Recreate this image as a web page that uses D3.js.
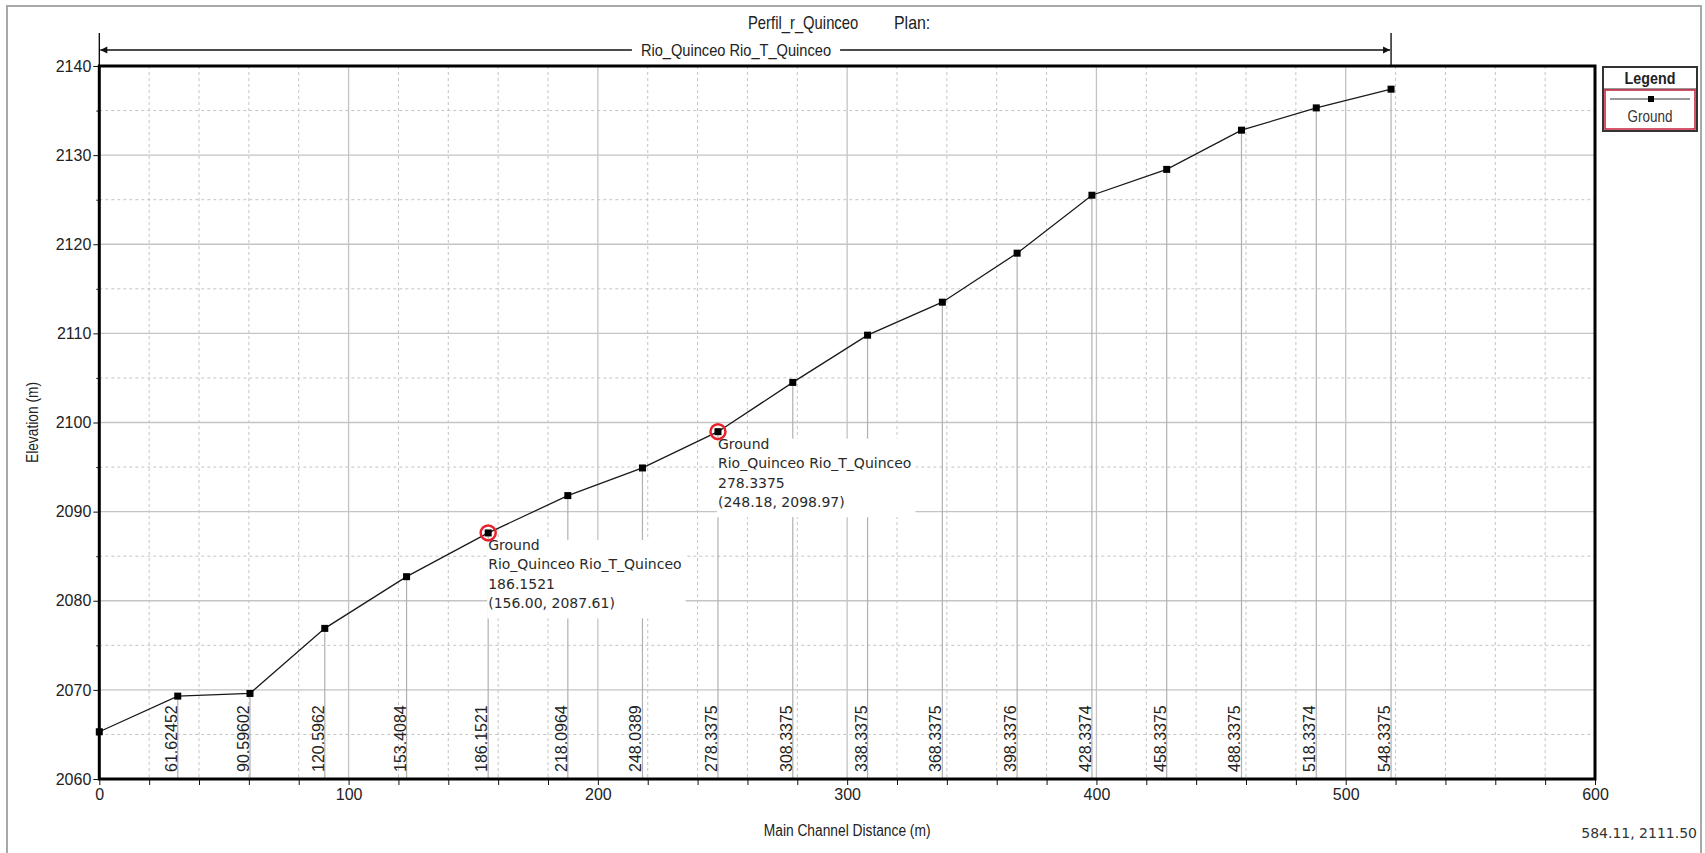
<!DOCTYPE html>
<html>
<head>
<meta charset="utf-8">
<script src="https://cdn.jsdelivr.net/npm/d3@7"></script>
<style>
  html, body { margin: 0; padding: 0; background: #fff; }
  svg { display: block; }
  .narrow { font-family: "Liberation Sans", Arial, sans-serif; }
  .reg { font-family: "Liberation Sans", Arial, sans-serif; }
  .tip { font-family: "DejaVu Sans", Verdana, Tahoma, sans-serif; }
</style>
</head>
<body>
<svg id="chart" width="1705" height="853"></svg>
<script>
// ---------------- data ----------------
const distances = [0, 31.47, 60.45, 90.45, 123.26, 156.00, 187.95, 217.89, 248.18, 278.19, 308.19, 338.19, 368.19, 398.19, 428.19, 458.19, 488.19, 518.19];
const elevations = [2065.3, 2069.3, 2069.6, 2076.9, 2082.7, 2087.61, 2091.8, 2094.9, 2098.97, 2104.5, 2109.8, 2113.5, 2119.0, 2125.5, 2128.4, 2132.8, 2135.3, 2137.4];
const stationLabels = ["", "61.62452", "90.59602", "120.5962", "153.4084", "186.1521", "218.0964", "248.0389", "278.3375", "308.3375", "338.3375", "368.3375", "398.3376", "428.3374", "458.3375", "488.3375", "518.3374", "548.3375"];
const xTickValues = [0, 100, 200, 300, 400, 500, 600];
const yTickValues = [2060, 2070, 2080, 2090, 2100, 2110, 2120, 2130, 2140];
const tooltipIndices = [5, 8];
const seriesName = "Ground";
const reachName = "Rio_Quinceo Rio_T_Quinceo";
const titleText = "Perfil_r_Quinceo";
const planText = "Plan:";
const xTitle = "Main Channel Distance (m)";
const yTitle = "Elevation (m)";
const cursorText = "584.11, 2111.50";

// ---------------- layout ----------------
const svg = d3.select("#chart");
const L = 99.3, R = 1595, T = 66, B = 779;
const x = d3.scaleLinear().domain([0, 600]).range([L, R]);
const y = d3.scaleLinear().domain([2060, 2140]).range([B, T]);
const pts = distances.map((d, i) => ({ d, e: elevations[i], s: stationLabels[i] }));

// condense a text element horizontally (narrow-font look)
function condense(sel, f) {
  sel.each(function () {
    const w = this.getComputedTextLength();
    d3.select(this).attr("textLength", w * f).attr("lengthAdjust", "spacingAndGlyphs");
  });
}

// outer window border
svg.append("rect").attr("x", 7).attr("y", 6).attr("width", 1694).attr("height", 900)
  .attr("fill", "none").attr("stroke", "#a8a8a8").attr("stroke-width", 2);

// grid
const g = svg.append("g");
const minorX = d3.range(0, 601, 20).filter(v => v % 100 !== 0);
const minorY = d3.range(2060, 2141, 5).filter(v => v % 10 !== 0);
g.selectAll(".vmin").data(minorX).join("line")
  .attr("x1", d => x(d)).attr("x2", d => x(d)).attr("y1", T).attr("y2", B)
  .attr("stroke", "#c4c4c4").attr("stroke-width", 1).attr("stroke-dasharray", "3,3");
g.selectAll(".hmin").data(minorY).join("line")
  .attr("x1", L).attr("x2", R).attr("y1", d => y(d)).attr("y2", d => y(d))
  .attr("stroke", "#c4c4c4").attr("stroke-width", 1).attr("stroke-dasharray", "3,3");
g.selectAll(".vmaj").data(xTickValues).join("line")
  .attr("x1", d => x(d)).attr("x2", d => x(d)).attr("y1", T).attr("y2", B)
  .attr("stroke", "#c4c4c4").attr("stroke-width", 1.3);
g.selectAll(".hmaj").data(yTickValues).join("line")
  .attr("x1", L).attr("x2", R).attr("y1", d => y(d)).attr("y2", d => y(d))
  .attr("stroke", "#c4c4c4").attr("stroke-width", 1.3);

// station drop lines
g.selectAll(".drop").data(pts).join("line")
  .attr("x1", d => x(d.d)).attr("x2", d => x(d.d)).attr("y1", B).attr("y2", d => y(d.e))
  .attr("stroke", "#b0b0b0").attr("stroke-width", 1.2);

// station labels
g.selectAll(".slab").data(pts.filter(p => p.s)).join("text")
  .attr("class", "reg")
  .attr("transform", d => `translate(${x(d.d) - 1},${B - 7}) rotate(-90)`)
  .attr("text-anchor", "start")
  .attr("font-size", 16).attr("fill", "#222")
  .text(d => d.s);

// axes ticks
const yAxis = d3.axisLeft(y).tickValues(yTickValues).tickSize(6).tickPadding(2).tickFormat(d3.format("d"));
const yAxisMinor = d3.axisLeft(y).tickValues(minorY).tickSize(3).tickFormat("");
const xAxis = d3.axisBottom(x).tickValues(xTickValues).tickSize(6).tickPadding(4).tickFormat(d3.format("d"));
const xAxisMinor = d3.axisBottom(x).tickValues(minorX).tickSize(6).tickFormat("");
function styleAxis(sel) {
  sel.select(".domain").remove();
  sel.selectAll("line").attr("stroke", "#111");
  sel.selectAll("text").attr("font-size", 16).attr("fill", "#222")
    .style("font-family", "'Liberation Sans', Arial, sans-serif");
}
svg.append("g").attr("transform", `translate(${L},0)`).call(yAxis).call(styleAxis);
svg.append("g").attr("transform", `translate(${L},0)`).call(yAxisMinor).call(styleAxis);
svg.append("g").attr("transform", `translate(0,${B})`).call(xAxis).call(styleAxis);
svg.append("g").attr("transform", `translate(0,${B})`).call(xAxisMinor).call(styleAxis);

// frame
svg.append("rect").attr("x", L).attr("y", T).attr("width", R - L).attr("height", B - T)
  .attr("fill", "none").attr("stroke", "#000").attr("stroke-width", 3);

// line + markers
const line = d3.line().x(d => x(d.d)).y(d => y(d.e));
svg.append("path").datum(pts).attr("d", line).attr("fill", "none")
  .attr("stroke", "#1a1a1a").attr("stroke-width", 1.3);
svg.selectAll(".mk").data(pts).join("rect")
  .attr("x", d => x(d.d) - 3.5).attr("y", d => y(d.e) - 3.5)
  .attr("width", 7).attr("height", 7).attr("fill", "#000");

// reach arrow
const xStart = x(distances[0]), xEnd = x(distances[distances.length - 1]);
const ay = 50;
svg.append("line").attr("x1", xStart).attr("x2", xStart).attr("y1", 33).attr("y2", T).attr("stroke", "#000").attr("stroke-width", 1.3);
svg.append("line").attr("x1", xEnd).attr("x2", xEnd).attr("y1", 33).attr("y2", T).attr("stroke", "#000").attr("stroke-width", 1.3);
svg.append("line").attr("x1", xStart + 1).attr("x2", xEnd - 1).attr("y1", ay).attr("y2", ay).attr("stroke", "#111").attr("stroke-width", 1.3);
svg.append("path").attr("d", `M${xStart + 1},${ay} l7,-3.5 l0,7 z`).attr("fill", "#111");
svg.append("path").attr("d", `M${xEnd - 1},${ay} l-7,-3.5 l0,7 z`).attr("fill", "#111");
const reachG = svg.append("g");
const reachBg = reachG.append("rect").attr("fill", "#fff");
const reachT = reachG.append("text").attr("class", "narrow").attr("x", 736).attr("y", ay + 6)
  .attr("text-anchor", "middle").attr("font-size", 17).attr("fill", "#222").text(reachName)
  .call(condense, 0.86);
const rb = reachT.node().getBBox();
reachBg.attr("x", rb.x - 9).attr("y", ay - 3).attr("width", rb.width + 18).attr("height", 6);

// title
svg.append("text").attr("class", "narrow").attr("x", 748).attr("y", 29)
  .attr("font-size", 18.5).attr("fill", "#222").text(titleText).call(condense, 0.8);
svg.append("text").attr("class", "narrow").attr("x", 894).attr("y", 29)
  .attr("font-size", 18.5).attr("fill", "#222").text(planText).call(condense, 0.86);

// axis titles
svg.append("text").attr("class", "narrow").attr("x", (L + R) / 2).attr("y", 836)
  .attr("text-anchor", "middle").attr("font-size", 16).attr("fill", "#222").text(xTitle).call(condense, 0.86);
svg.append("text").attr("class", "narrow")
  .attr("transform", `translate(38,${(T + B) / 2}) rotate(-90)`)
  .attr("text-anchor", "middle").attr("font-size", 16).attr("fill", "#222").text(yTitle).call(condense, 0.86);

// cursor coordinates
svg.append("text").attr("class", "tip").attr("x", 1697).attr("y", 838)
  .attr("text-anchor", "end").attr("font-size", 14).attr("fill", "#333").text(cursorText);

// tooltips
tooltipIndices.forEach(i => {
  const p = pts[i];
  const px = x(p.d), py = y(p.e);
  const lines = [seriesName, reachName, p.s, `(${p.d.toFixed(2)}, ${p.e.toFixed(2)})`];
  const tg = svg.append("g");
  const bg = tg.append("rect").attr("fill", "#fff");
  lines.forEach((t, k) => tg.append("text").attr("class", "tip")
    .attr("x", px).attr("y", py + 17 + k * 19.5)
    .attr("font-size", 14).attr("fill", "#2a2a2a").text(t));
  const bb = tg.node().getBBox();
  bg.attr("x", bb.x - 1).attr("y", bb.y + 3).attr("width", bb.width + 5).attr("height", bb.height + 4);
  svg.append("circle").attr("cx", px).attr("cy", py).attr("r", 7.5)
    .attr("fill", "none").attr("stroke", "#e8212b").attr("stroke-width", 2.5);
});

// legend
const lg = svg.append("g");
lg.append("rect").attr("x", 1603).attr("y", 67).attr("width", 94).attr("height", 64)
  .attr("fill", "#fff").attr("stroke", "#333").attr("stroke-width", 2);
lg.append("line").attr("x1", 1603).attr("x2", 1697).attr("y1", 89).attr("y2", 89).attr("stroke", "#333").attr("stroke-width", 1.2);
lg.append("rect").attr("x", 1605).attr("y", 90).attr("width", 90).attr("height", 39)
  .attr("fill", "none").attr("stroke", "#c41e3a").attr("stroke-width", 1.5);
lg.append("text").attr("class", "narrow").attr("x", 1650).attr("y", 84).attr("text-anchor", "middle")
  .attr("font-size", 17).attr("font-weight", "bold").attr("fill", "#222").text("Legend").call(condense, 0.84);
lg.append("line").attr("x1", 1610).attr("x2", 1690).attr("y1", 99).attr("y2", 99).attr("stroke", "#333").attr("stroke-width", 1.2);
lg.append("rect").attr("x", 1648).attr("y", 96).attr("width", 6).attr("height", 6).attr("fill", "#000");
lg.append("text").attr("class", "narrow").attr("x", 1650).attr("y", 122).attr("text-anchor", "middle")
  .attr("font-size", 16).attr("fill", "#333").text(seriesName).call(condense, 0.84);
</script>
</body>
</html>
